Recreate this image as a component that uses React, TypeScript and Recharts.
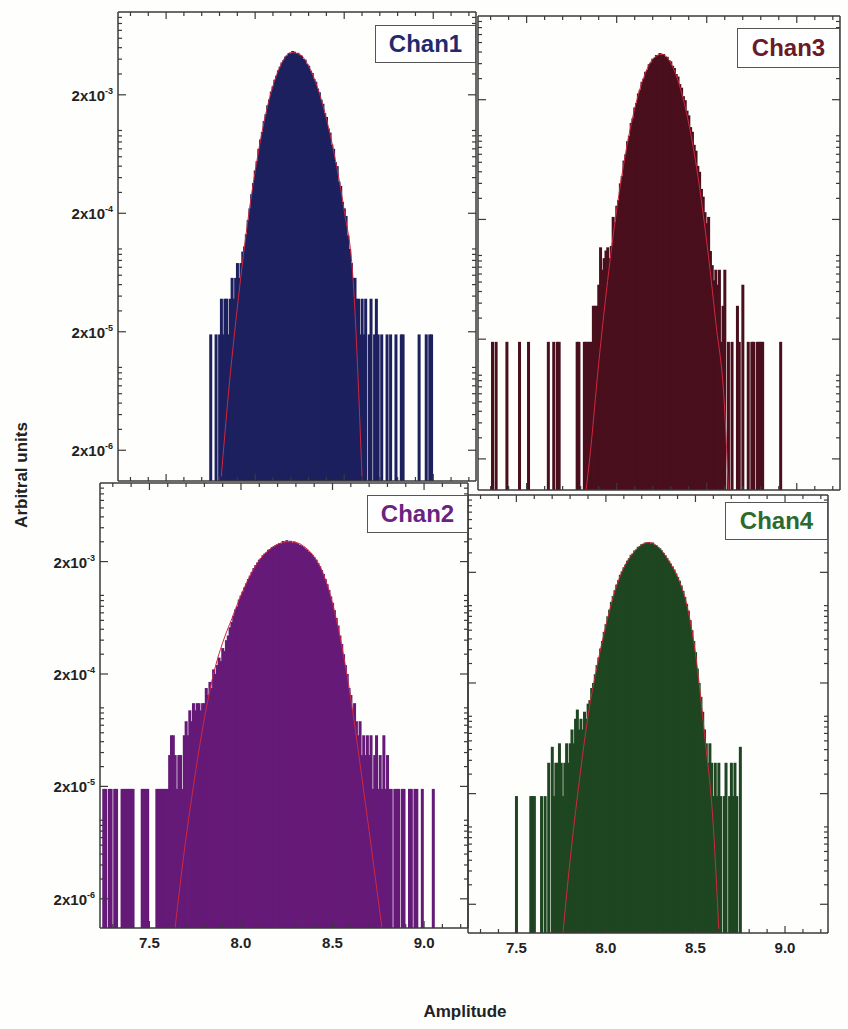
import { Bar, ComposedChart, Line, XAxis, YAxis } from 'recharts';

// histogram bins are 0.01 wide, values written in units of 1e-5
const BIN = 0.01;
const UNIT = 1e-5;
const FONT = '"Liberation Sans", Arial, sans-serif';
const AXIS = '#3a3a3a';
const FIT = '#d0283c';

const xTicks = [7.3, 7.4, 7.5, 7.6, 7.7, 7.8, 7.9, 8.0, 8.1, 8.2, 8.3, 8.4, 8.5, 8.6, 8.7, 8.8, 8.9, 9.0, 9.1, 9.2];
const xMajor = [7.5, 8.0, 8.5, 9.0];
const yTicks = [
  2e-6, 3e-6, 4e-6, 5e-6, 6e-6, 7e-6, 8e-6, 9e-6,
  1e-5, 2e-5, 3e-5, 4e-5, 5e-5, 6e-5, 7e-5, 8e-5, 9e-5,
  1e-4, 2e-4, 3e-4, 4e-4, 5e-4, 6e-4, 7e-4, 8e-4, 9e-4,
  1e-3, 2e-3, 3e-3, 4e-3, 5e-3, 6e-3, 7e-3, 8e-3, 9e-3,
];
const yMajor = [2e-6, 2e-5, 2e-4, 2e-3];
const yMajorExp = ['-6', '-5', '-4', '-3'];

const chan1Start = 7.74;
const chan1Counts = [
  0, 1.9, 0, 0, 1.9, 0, 1.9, 3.8, 1.9, 3.8,
  3.8, 1.9, 3.8, 5.7, 3.8, 5.7, 7.6, 5.7, 7.6, 9.5,
  10.5, 13.3, 17.5, 22, 29, 36, 46, 55, 70, 84,
  97, 120, 137, 163, 183, 213, 236, 268, 290, 322,
  345, 375, 392, 420, 430, 450, 446, 468, 462, 450,
  452, 432, 428, 402, 396, 364, 352, 320, 306, 272,
  258, 226, 210, 182, 168, 140, 130, 104, 96, 76,
  70, 54, 50, 37, 34, 25, 22, 19, 13, 10,
  7.6, 5.7, 5.7, 3.8, 3.8, 1.9, 3.8, 1.9, 3.8, 0,
  1.9, 3.8, 0, 1.9, 3.8, 1.9, 0, 1.9, 0, 0,
  1.9, 0, 1.9, 0, 0, 1.9, 0, 0, 1.9, 1.9,
  0, 0, 0, 0, 0, 0, 0, 0, 1.9, 0,
  0, 0, 1.9, 0, 1.9, 1.9,
];
const chan1FitX = [7.81, 7.85, 7.9, 7.95, 8.0, 8.05, 8.1, 8.15, 8.2, 8.25, 8.3, 8.35, 8.4, 8.45, 8.5, 8.55, 8.6];
const chan1FitY = [0.12, 0.6, 3.2, 13.7, 45, 118, 237, 372, 455, 439, 350, 231, 126, 57, 21, 5.5, 0.12];

const chan3Start = 7.3;
const chan3Counts = [
  0, 1.9, 0, 1.9, 0, 0, 0, 0, 0, 1.9,
  0, 0, 0, 0, 0, 0, 1.9, 0, 0, 0,
  0, 1.9, 0, 0, 0, 0, 0, 0, 0, 0,
  0, 0, 1.9, 0, 0, 1.9, 0, 1.9, 1.9, 0,
  0, 0, 0, 0, 0, 0, 0, 0, 1.9, 1.9,
  0, 0, 1.9, 1.9, 1.9, 1.9, 1.9, 3.8, 3.8, 3.8,
  5.7, 11.7, 7.6, 9.5, 11, 11.7, 9.5, 12, 21, 19,
  26, 29, 40, 46, 62, 70, 90, 100, 128, 140,
  172, 188, 226, 242, 282, 300, 342, 356, 396, 408,
  440, 448, 472, 470, 490, 476, 482, 458, 456, 428,
  418, 384, 368, 328, 312, 270, 252, 214, 198, 162,
  148, 118, 108, 84, 75, 56, 50, 36, 31, 23,
  18.6, 21, 10.9, 8.3, 6.2, 7.6, 5.7, 7.6, 1.9, 3.8,
  7.6, 0, 1.9, 0, 1.9, 0, 0, 3.8, 1.9, 0,
  5.7, 0, 0, 1.9, 0, 1.9, 1.9, 0, 1.9, 1.9,
  1.9, 1.9, 0, 0, 0, 0, 0, 0, 0, 0,
  0, 1.9,
];
const chan3FitX = [7.83, 7.85, 7.9, 7.95, 8.0, 8.05, 8.1, 8.15, 8.2, 8.25, 8.3, 8.35, 8.4, 8.45, 8.5, 8.55, 8.6, 8.62];
const chan3FitY = [0.11, 0.2, 1.25, 6.2, 24, 72, 168, 306, 434, 480, 406, 260, 127, 47, 13, 2.8, 0.5, 0.11];

const chan2Start = 7.25;
const chan2Counts = [
  1.9, 1.9, 0, 1.9, 1.9, 0, 1.9, 1.9, 0, 0,
  1.9, 1.9, 1.9, 1.9, 1.9, 1.9, 1.9, 0, 0, 0,
  0, 1.9, 1.9, 1.9, 1.9, 0, 0, 0, 0, 1.9,
  1.9, 1.9, 1.9, 1.9, 1.9, 1.9, 3.8, 5.7, 5.7, 3.8,
  1.9, 3.8, 3.8, 1.9, 5.7, 7.6, 5.7, 9.5, 7.6, 11,
  9.5, 11, 11, 9.5, 11, 11, 15, 13, 17, 15,
  22, 20, 24, 28, 26, 34, 32, 40, 44, 52,
  58, 66, 75, 80, 92, 100, 108, 118, 128, 140,
  150, 162, 175, 186, 196, 208, 215, 228, 236, 242,
  255, 258, 268, 272, 280, 285, 292, 290, 305, 298,
  310, 300, 306, 296, 302, 292, 290, 282, 278, 270,
  262, 255, 245, 238, 228, 218, 208, 194, 182, 168,
  155, 140, 126, 112, 98, 86, 74, 63, 54, 44,
  37, 30, 24, 20, 15, 13, 9.5, 11, 7.6, 5.7,
  7.6, 3.8, 5.7, 3.8, 5.7, 3.8, 5.7, 1.9, 3.8, 5.7,
  1.9, 3.8, 1.9, 5.7, 1.9, 3.8, 1.9, 1.9, 0, 1.9,
  1.9, 1.9, 0, 1.9, 1.9, 0, 0, 1.9, 1.9, 0,
  1.9, 1.9, 0, 0, 1.9, 0, 0, 0, 0, 0,
  1.9,
];
const chan2FitX = [7.64, 7.7, 7.74, 7.8, 7.85, 7.9, 7.95, 8.0, 8.05, 8.1, 8.15, 8.2, 8.26, 8.3, 8.35, 8.4, 8.45, 8.5, 8.55, 8.6, 8.65, 8.7, 8.77];
const chan2FitY = [0.11, 0.7, 2, 8, 20, 38, 62, 100, 150, 205, 252, 285, 300, 296, 268, 220, 155, 85, 36, 12, 3.2, 0.8, 0.11];

const chan4Start = 7.5;
const chan4Counts = [
  1.9, 0, 0, 0, 0, 0, 0, 0, 1.9, 1.9,
  1.9, 0, 0, 0, 1.9, 0, 1.9, 0, 3.8, 0,
  5.3, 1.9, 3.8, 3.8, 5.7, 3.8, 1.9, 3.8, 5.7, 3.8,
  5.7, 7.6, 5.7, 9.5, 11.5, 7.6, 9.5, 7.6, 11, 9.5,
  13, 14, 18, 20, 24, 29, 34, 41, 48, 58,
  68, 80, 92, 108, 122, 138, 155, 170, 190, 204,
  222, 235, 255, 268, 288, 296, 315, 322, 340, 345,
  360, 362, 372, 370, 375, 365, 372, 355, 352, 338,
  330, 316, 300, 286, 270, 255, 240, 226, 212, 196,
  182, 168, 152, 136, 120, 104, 90, 74, 60, 48,
  38, 27, 20, 15, 11, 7.6, 5.7, 3.8, 5.7, 3.8,
  1.9, 3.8, 1.9, 3.8, 1.9, 0, 1.9, 3.8, 0, 1.9,
  3.8, 1.9, 3.8, 1.9, 0, 5.3,
];
const chan4FitX = [7.76, 7.8, 7.85, 7.9, 7.95, 8.0, 8.05, 8.1, 8.15, 8.2, 8.24, 8.3, 8.35, 8.4, 8.45, 8.5, 8.55, 8.6, 8.63];
const chan4FitY = [0.11, 0.5, 2.5, 10, 28, 66, 135, 220, 295, 355, 372, 330, 255, 182, 104, 37, 7, 1, 0.12];

function histRows(start: number, counts: number[]) {
  return counts
    .map((c, i) => ({ x: Math.round((start + i * BIN) * 100) / 100, v: c * UNIT }))
    .filter((r) => r.v > 0);
}

function fitRows(xs: number[], vs: number[]) {
  return xs.map((x, i) => ({ x, v: vs[i] * UNIT }));
}

const PANELS = [
  {
    name: 'Chan1', color: '#1d205e', text: '#1f2b6e',
    hist: histRows(chan1Start, chan1Counts), fit: fitRows(chan1FitX, chan1FitY),
    rect: { left: 118, top: 12, width: 358, height: 469 },
    box: { left: 375, top: 25, width: 101, height: 38 },
    xLabels: false, yLabels: true,
  },
  {
    name: 'Chan3', color: '#4a0f1d', text: '#6b1a28',
    hist: histRows(chan3Start, chan3Counts), fit: fitRows(chan3FitX, chan3FitY),
    rect: { left: 478, top: 16, width: 362, height: 474 },
    box: { left: 737, top: 28, width: 103, height: 40 },
    xLabels: false, yLabels: false,
  },
  {
    name: 'Chan2', color: '#661a78', text: '#6a2480',
    hist: histRows(chan2Start, chan2Counts), fit: fitRows(chan2FitX, chan2FitY),
    rect: { left: 100, top: 483, width: 368, height: 445 },
    box: { left: 367, top: 495, width: 101, height: 38 },
    xLabels: true, yLabels: true,
  },
  {
    name: 'Chan4', color: '#1e4620', text: '#2d6a2d',
    hist: histRows(chan4Start, chan4Counts), fit: fitRows(chan4FitX, chan4FitY),
    rect: { left: 468, top: 495, width: 360, height: 438 },
    box: { left: 725, top: 502, width: 103, height: 38 },
    xLabels: true, yLabels: false,
  },
];

const X_DOMAIN: [number, number] = [7.23, 9.24];
const Y_DOMAIN: [number, number] = [1.1e-6, 1e-2];
const LEFT_W = 80;
const BOTTOM_H = 34;

const isMajorX = (v: number) => xMajor.some((m) => Math.abs(m - v) < 1e-6);
const majorYIndex = (v: number) => yMajor.findIndex((m) => Math.abs(m - v) / m < 1e-6);

function BottomTick(props: any) {
  const { x, y, payload, showLabel } = props;
  const major = isMajorX(payload.value);
  return (
    <g>
      <line x1={x} x2={x} y1={y} y2={y - (major ? 7 : 4)} stroke={AXIS} strokeWidth={1.2} />
      {showLabel && major && (
        <text x={x} y={y + 20} textAnchor="middle" fontFamily={FONT} fontWeight="bold" fontSize={15} fill="#222">
          {payload.value.toFixed(1)}
        </text>
      )}
    </g>
  );
}

function TopTick(props: any) {
  const { x, y, payload } = props;
  const major = isMajorX(payload.value);
  return <line x1={x} x2={x} y1={y} y2={y + (major ? 7 : 4)} stroke={AXIS} strokeWidth={1.2} />;
}

function LeftTick(props: any) {
  const { x, y, payload, showLabel } = props;
  const idx = majorYIndex(payload.value);
  const major = idx >= 0;
  return (
    <g>
      <line x1={x} x2={x + (major ? 8 : 4)} y1={y} y2={y} stroke={AXIS} strokeWidth={1.2} />
      {showLabel && major && (
        <text x={x - 5} y={y + 6} textAnchor="end" fontFamily={FONT} fontWeight="bold" fontSize={15} fill="#222">
          2x10
          <tspan dy={-7} fontSize={9}>{yMajorExp[idx]}</tspan>
        </text>
      )}
    </g>
  );
}

function RightTick(props: any) {
  const { x, y, payload } = props;
  const major = majorYIndex(payload.value) >= 0;
  return <line x1={x} x2={x - (major ? 8 : 4)} y1={y} y2={y} stroke={AXIS} strokeWidth={1.2} />;
}

const WideBar = (p: any) => (
  <rect x={p.x - 0.5} y={p.y} width={p.width + 1} height={Math.max(p.height, 0)} fill={p.fill} />
);

function Panel({ p }: { p: (typeof PANELS)[number] }) {
  const { rect } = p;
  const axisLine = { stroke: AXIS, strokeWidth: 1.5 };
  return (
    <div style={{ position: 'absolute', left: rect.left - LEFT_W, top: rect.top - 2 }}>
      <ComposedChart
        width={rect.width + LEFT_W + 2}
        height={rect.height + BOTTOM_H + 2}
        data={p.hist}
        margin={{ top: 0, right: 0, bottom: 0, left: 0 }}
        barCategoryGap={0}
        barGap={0}
      >
        <XAxis
          dataKey="x" type="number" domain={X_DOMAIN} allowDataOverflow ticks={xTicks} interval={0}
          height={BOTTOM_H} tickSize={0} tickMargin={0} tickLine={false} axisLine={axisLine}
          tick={(t: any) => <BottomTick {...t} showLabel={p.xLabels} />}
        />
        <XAxis
          xAxisId="t" orientation="top" dataKey="x" type="number" domain={X_DOMAIN} allowDataOverflow
          ticks={xTicks} interval={0} height={2} tickSize={0} tickMargin={0} tickLine={false}
          axisLine={axisLine} tick={(t: any) => <TopTick {...t} />}
        />
        <YAxis
          type="number" scale="log" domain={Y_DOMAIN} allowDataOverflow ticks={yTicks} interval={0}
          width={LEFT_W} tickSize={0} tickMargin={0} tickLine={false} axisLine={axisLine}
          tick={(t: any) => <LeftTick {...t} showLabel={p.yLabels} />}
        />
        <YAxis
          yAxisId="r" orientation="right" type="number" scale="log" domain={Y_DOMAIN} allowDataOverflow
          ticks={yTicks} interval={0} width={2} tickSize={0} tickMargin={0} tickLine={false}
          axisLine={axisLine} tick={(t: any) => <RightTick {...t} />}
        />
        <Bar dataKey="v" fill={p.color} shape={WideBar} isAnimationActive={false} />
        <Line
          data={p.fit} dataKey="v" xAxisId="t" yAxisId="r" type="monotone"
          stroke={FIT} strokeWidth={1} dot={false} activeDot={false} isAnimationActive={false}
        />
      </ComposedChart>
    </div>
  );
}

export default function App() {
  return (
    <div style={{ position: 'absolute', left: 0, top: 0, width: 848, height: 1029, background: '#fefefd', fontFamily: FONT }}>
      {PANELS.map((p) => (
        <Panel key={p.name} p={p} />
      ))}
      {PANELS.map((p) => (
        <div
          key={p.name + '-box'}
          style={{
            position: 'absolute', left: p.box.left, top: p.box.top, width: p.box.width, height: p.box.height,
            boxSizing: 'border-box', border: '1.5px solid #555', background: '#fff',
            display: 'flex', alignItems: 'center', justifyContent: 'center',
            color: p.text, fontWeight: 'bold', fontSize: 24,
          }}
        >
          {p.name}
        </div>
      ))}
      <div
        style={{
          position: 'absolute', left: 22, top: 475, transform: 'translate(-50%, -50%) rotate(-90deg)',
          whiteSpace: 'nowrap', fontWeight: 'bold', fontSize: 17, color: '#222',
        }}
      >
        Arbitral units
      </div>
      <div
        style={{
          position: 'absolute', left: 465, top: 1012, transform: 'translate(-50%, -50%)',
          whiteSpace: 'nowrap', fontWeight: 'bold', fontSize: 17, color: '#222',
        }}
      >
        Amplitude
      </div>
    </div>
  );
}
